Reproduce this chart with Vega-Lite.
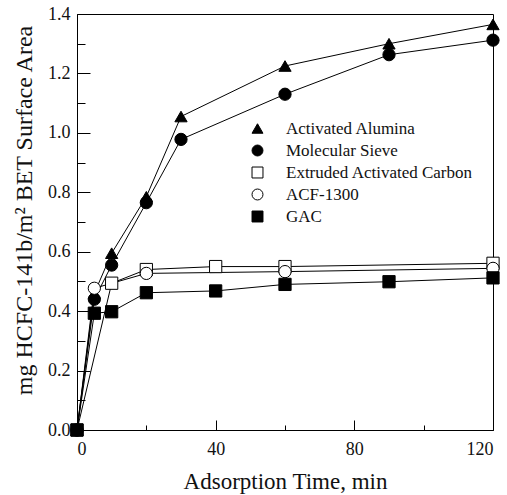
{
  "$schema": "https://vega.github.io/schema/vega-lite/v6.json",
  "width": 416,
  "height": 416,
  "autosize": {"type": "none"},
  "padding": {"left": 77, "top": 14, "right": 14, "bottom": 65},
  "background": "white",
  "config": {
    "view": {"stroke": "black", "strokeWidth": 1},
    "font": "Liberation Serif",
    "axis": {
      "grid": false,
      "domainColor": "black",
      "tickColor": "black",
      "labelColor": "#111",
      "titleColor": "#111",
      "labelFont": "Liberation Serif",
      "titleFont": "Liberation Serif",
      "titleFontWeight": "normal"
    },
    "legend": {"labelFont": "Liberation Serif", "labelLimit": 400}
  },
  "data": {
    "values": [
      {"series": "Activated Alumina", "t": 0, "v": 0},
      {"series": "Activated Alumina", "t": 5, "v": 0.46},
      {"series": "Activated Alumina", "t": 10, "v": 0.595},
      {"series": "Activated Alumina", "t": 20, "v": 0.785},
      {"series": "Activated Alumina", "t": 30, "v": 1.055},
      {"series": "Activated Alumina", "t": 60, "v": 1.225},
      {"series": "Activated Alumina", "t": 90, "v": 1.3},
      {"series": "Activated Alumina", "t": 120, "v": 1.365},
      {"series": "Molecular Sieve", "t": 0, "v": 0},
      {"series": "Molecular Sieve", "t": 5, "v": 0.44},
      {"series": "Molecular Sieve", "t": 10, "v": 0.555},
      {"series": "Molecular Sieve", "t": 20, "v": 0.765},
      {"series": "Molecular Sieve", "t": 30, "v": 0.978},
      {"series": "Molecular Sieve", "t": 60, "v": 1.13},
      {"series": "Molecular Sieve", "t": 90, "v": 1.263},
      {"series": "Molecular Sieve", "t": 120, "v": 1.312},
      {"series": "Extruded Activated Carbon", "t": 0, "v": 0},
      {"series": "Extruded Activated Carbon", "t": 10, "v": 0.494},
      {"series": "Extruded Activated Carbon", "t": 20, "v": 0.54},
      {"series": "Extruded Activated Carbon", "t": 40, "v": 0.55},
      {"series": "Extruded Activated Carbon", "t": 60, "v": 0.55},
      {"series": "Extruded Activated Carbon", "t": 120, "v": 0.561},
      {"series": "ACF-1300", "t": 0, "v": 0},
      {"series": "ACF-1300", "t": 5, "v": 0.477},
      {"series": "ACF-1300", "t": 20, "v": 0.527},
      {"series": "ACF-1300", "t": 60, "v": 0.533},
      {"series": "ACF-1300", "t": 120, "v": 0.544},
      {"series": "GAC", "t": 0, "v": 0},
      {"series": "GAC", "t": 5, "v": 0.393},
      {"series": "GAC", "t": 10, "v": 0.398},
      {"series": "GAC", "t": 20, "v": 0.462},
      {"series": "GAC", "t": 40, "v": 0.468},
      {"series": "GAC", "t": 60, "v": 0.49},
      {"series": "GAC", "t": 90, "v": 0.499},
      {"series": "GAC", "t": 120, "v": 0.512}
    ]
  },
  "layer": [
    {
      "mark": {"type": "line", "interpolate": "linear", "color": "black", "strokeWidth": 1},
      "encoding": {
        "x": {
          "field": "t", "type": "quantitative",
          "scale": {"domain": [0, 120], "nice": false, "zero": false},
          "axis": {
            "orient": "bottom",
            "values": [0, 40, 80, 120],
            "tickSize": -10,
            "labelPadding": 20,
            "labelFontSize": 18,
            "title": "Adsorption Time, min",
            "titleFontSize": 23,
            "titleY": 51,
            "titleBaseline": "middle"
          }
        },
        "y": {
          "field": "v", "type": "quantitative",
          "scale": {"domain": [0, 1.4], "nice": false},
          "axis": {
            "orient": "left",
            "values": [0, 0.2, 0.4, 0.6, 0.8, 1.0, 1.2, 1.4],
            "format": ".1f",
            "tickSize": -13,
            "labelPadding": 20,
            "labelFontSize": 18,
            "title": "mg HCFC-141b/m² BET Surface Area",
            "titleFontSize": 24,
            "titleX": -53,
            "titleY": 196,
            "titleAngle": -90,
            "titleAlign": "center",
            "titleBaseline": "middle"
          }
        },
        "detail": {"field": "series"},
        "order": {"field": "t"}
      }
    },
    {
      "mark": {"type": "point", "filled": true, "strokeWidth": 1, "opacity": 1, "size": 150},
      "encoding": {
        "x": {
          "field": "t", "type": "quantitative",
          "axis": {"orient": "bottom", "values": [20, 60, 100], "tickSize": -5, "labels": false, "domain": false, "title": null}
        },
        "y": {
          "field": "v", "type": "quantitative",
          "axis": {"orient": "left", "values": [0.1, 0.3, 0.5, 0.7, 0.9, 1.1, 1.3], "tickSize": -8, "labels": false, "domain": false, "title": null}
        },
        "shape": {
          "field": "series", "type": "nominal",
          "scale": {
            "domain": ["Activated Alumina", "Molecular Sieve", "Extruded Activated Carbon", "ACF-1300", "GAC"],
            "range": ["triangle-up", "circle", "square", "circle", "square"]
          },
          "legend": {
            "orient": "none", "legendX": 172, "legendY": 106, "title": null, "padding": 0,
            "labelFont": "Liberation Serif", "labelFontSize": 17, "labelColor": "#111", "labelLimit": 400,
            "symbolSize": 120, "symbolStrokeWidth": 1,
            "labelOffset": 20, "rowPadding": 4
          }
        },
        "fill": {
          "field": "series", "type": "nominal",
          "scale": {
            "domain": ["Activated Alumina", "Molecular Sieve", "Extruded Activated Carbon", "ACF-1300", "GAC"],
            "range": ["black", "black", "white", "white", "black"]
          },
          "legend": {
            "orient": "none", "legendX": 172, "legendY": 106, "title": null, "padding": 0,
            "labelFont": "Liberation Serif", "labelFontSize": 17, "labelColor": "#111", "labelLimit": 400,
            "symbolSize": 120, "symbolStrokeWidth": 1,
            "labelOffset": 20, "rowPadding": 4
          }
        },
        "stroke": {
          "field": "series", "type": "nominal",
          "scale": {
            "domain": ["Activated Alumina", "Molecular Sieve", "Extruded Activated Carbon", "ACF-1300", "GAC"],
            "range": ["black", "black", "black", "black", "black"]
          },
          "legend": {
            "orient": "none", "legendX": 172, "legendY": 106, "title": null, "padding": 0,
            "labelFont": "Liberation Serif", "labelFontSize": 17, "labelColor": "#111", "labelLimit": 400,
            "symbolSize": 120, "symbolStrokeWidth": 1,
            "labelOffset": 20, "rowPadding": 4
          }
        }
      }
    }
  ],
  "resolve": {"axis": {"x": "independent", "y": "independent"}}
}
